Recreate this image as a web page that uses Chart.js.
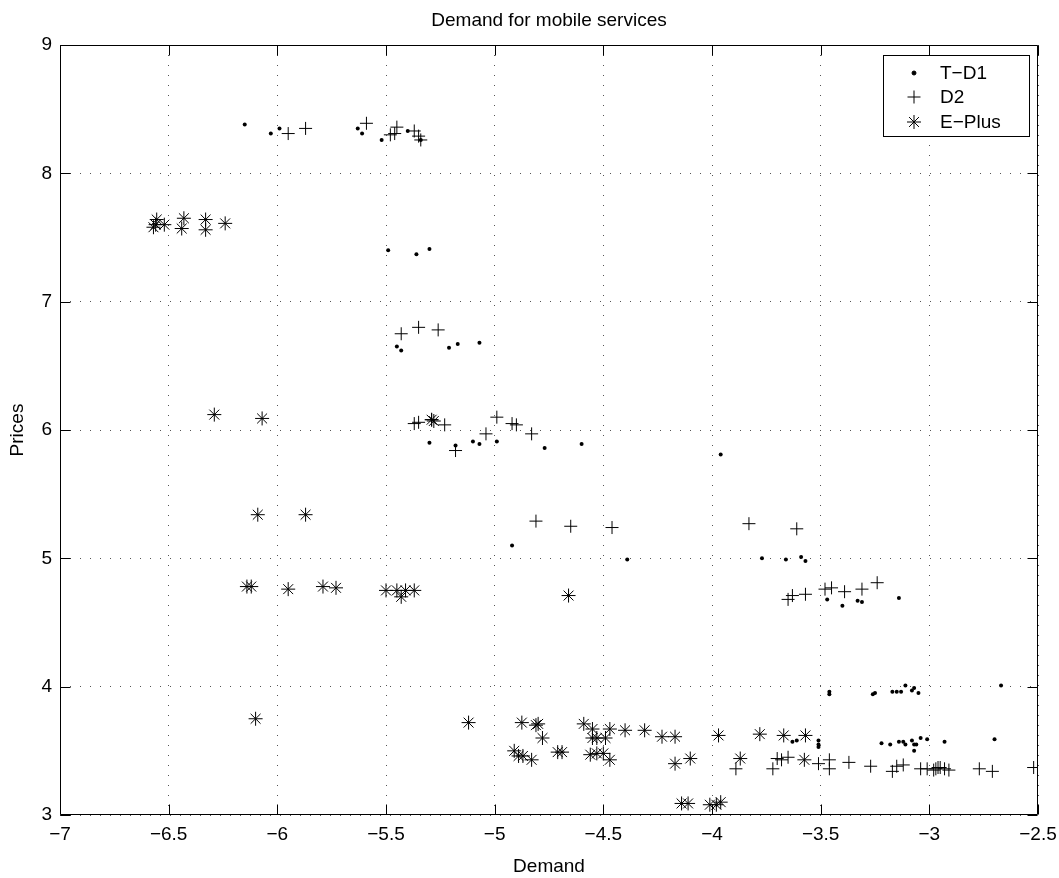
<!DOCTYPE html>
<html>
<head>
<meta charset="utf-8">
<script src="https://cdn.jsdelivr.net/npm/chart.js@4.4.1/dist/chart.umd.min.js"></script>
<style>
  html, body { margin: 0; padding: 0; background: #fff; }
  #wrap { width: 1059px; height: 878px; position: relative; }
</style>
</head>
<body>
<div id="wrap"><canvas id="c"></canvas></div>
<script>
// ---- Data ----
const seriesNames = ["T\u2212D1", "D2", "E\u2212Plus"];
const chartTitle = "Demand for mobile services";
const xTitle = "Demand";
const yTitle = "Prices";
const xTicks = [-7, -6.5, -6, -5.5, -5, -4.5, -4, -3.5, -3, -2.5];
const yTicks = [3, 4, 5, 6, 7, 8, 9];

const tdX = [-6.15,-6.03,-5.99,-5.63,-5.61,-5.52,-5.40,-5.34,
  -5.49,-5.36,-5.30,
  -5.45,-5.43,-5.21,-5.17,-5.07,
  -5.30,-5.18,-5.10,-5.07,-4.99,-4.77,-4.60,-3.96,
  -4.92,-4.39,-3.77,-3.66,-3.59,-3.57,
  -3.47,-3.40,-3.33,-3.31,-3.14,
  -3.46,-3.46,-3.26,-3.25,-3.17,-3.15,-3.13,-3.11,-3.08,-3.07,-3.05,-2.67,
  -3.51,-3.51,-3.51,-3.63,-3.61,-3.22,-3.18,-3.14,-3.12,-3.11,-3.08,-3.07,-3.07,-3.06,-3.04,-3.01,-2.93,-2.70];
const tdY = [8.38,8.31,8.35,8.35,8.31,8.26,8.33,8.26,
  7.40,7.37,7.41,
  6.65,6.62,6.64,6.67,6.68,
  5.90,5.88,5.91,5.89,5.91,5.86,5.89,5.81,
  5.10,4.99,5.00,4.99,5.01,4.98,
  4.68,4.63,4.67,4.66,4.69,
  3.96,3.94,3.94,3.95,3.96,3.96,3.96,4.01,3.97,3.99,3.95,4.01,
  3.58,3.55,3.53,3.57,3.58,3.56,3.55,3.57,3.57,3.55,3.58,3.55,3.50,3.55,3.60,3.59,3.57,3.59];

const d2X = [-5.95,-5.87,-5.59,-5.48,-5.46,-5.45,-5.37,-5.35,-5.34,
  -5.43,-5.35,-5.26,
  -5.37,-5.35,-5.29,-5.23,-5.18,-5.04,-4.99,-4.92,-4.90,-4.83,
  -4.81,-4.65,-4.46,-3.83,-3.61,
  -3.65,-3.63,-3.57,-3.48,-3.45,-3.39,-3.31,-3.24,
  -3.89,-3.72,-3.70,-3.68,-3.65,-3.51,-3.46,-3.46,-3.37,-3.27,-3.17,-3.15,-3.12,
  -3.04,-3.01,-2.98,-2.97,-2.96,-2.95,-2.93,-2.91,-2.77,-2.71,-2.52];
const d2Y = [8.31,8.35,8.39,8.30,8.31,8.36,8.33,8.29,8.26,
  6.75,6.80,6.78,
  6.05,6.06,6.08,6.04,5.84,5.97,6.10,6.05,6.04,5.97,
  5.29,5.25,5.24,5.27,5.23,
  4.68,4.71,4.72,4.76,4.77,4.74,4.76,4.81,
  3.36,3.36,3.44,3.43,3.45,3.40,3.43,3.36,3.41,3.38,3.34,3.38,3.39,
  3.36,3.36,3.35,3.36,3.37,3.37,3.36,3.35,3.36,3.34,3.37];

const epX = [-6.57,-6.555,-6.56,-6.52,-6.43,-6.44,-6.33,-6.33,-6.24,
  -6.29,-6.07,-5.29,-5.28,
  -6.09,-5.87,
  -6.14,-6.12,-5.95,-5.79,-5.73,-5.50,-5.45,-5.43,-5.41,-5.37,-4.66,
  -6.10,
  -5.12,-4.875,-4.81,-4.80,-4.78,-4.91,-4.89,-4.87,-4.83,-4.71,-4.69,
  -4.59,-4.55,-4.55,-4.53,-4.49,-4.47,-4.56,-4.53,-4.50,-4.47,
  -4.40,-4.31,-4.23,-4.17,-4.17,-4.10,
  -4.14,-4.11,-4.01,-3.98,-3.96,
  -3.97,-3.87,-3.78,-3.67,-3.57,-3.575];
const epY = [7.58,7.64,7.60,7.60,7.65,7.57,7.64,7.56,7.61,
  6.12,6.09,6.08,6.07,
  5.34,5.34,
  4.78,4.78,4.76,4.78,4.77,4.75,4.75,4.70,4.75,4.75,4.71,
  3.75,
  3.72,3.72,3.70,3.71,3.60,3.50,3.46,3.46,3.43,3.49,3.49,
  3.71,3.67,3.60,3.60,3.60,3.67,3.47,3.48,3.48,3.43,
  3.66,3.66,3.61,3.61,3.40,3.44,
  3.09,3.09,3.08,3.08,3.10,
  3.62,3.44,3.63,3.62,3.62,3.43];

const pts = (xs, ys) => xs.map((x, i) => ({ x: x, y: ys[i] }));
const FONT = "'Liberation Sans', Arial, Helvetica, sans-serif";
const minus = v => String(v).replace('-', '\u2212');

const framePlugin = {
  id: 'frame',
  afterDraw(chart) {
    const ctx = chart.ctx;
    const a = chart.chartArea;
    const xs = chart.scales.x, ys = chart.scales.y;
    const tl = 10;
    ctx.save();
    ctx.strokeStyle = '#000';
    ctx.lineWidth = 1;
    ctx.setLineDash([]);
    const L = Math.round(a.left) + 0.5, R = Math.round(a.right) - 0.5;
    const T = Math.round(a.top) + 0.5, B = Math.round(a.bottom) - 0.5;
    ctx.beginPath();
    ctx.rect(L, T, R - L, B - T);
    ctx.stroke();
    ctx.beginPath();
    xTicks.forEach(v => {
      const px = Math.round(xs.getPixelForValue(v)) + 0.5;
      ctx.moveTo(px, B); ctx.lineTo(px, B - tl);
      ctx.moveTo(px, T); ctx.lineTo(px, T + tl);
    });
    yTicks.forEach(v => {
      const py = Math.round(ys.getPixelForValue(v)) + 0.5;
      ctx.moveTo(L, py); ctx.lineTo(L + tl, py);
      ctx.moveTo(R, py); ctx.lineTo(R - tl, py);
    });
    ctx.stroke();

    // title
    ctx.fillStyle = '#000';
    ctx.font = '19px ' + FONT;
    ctx.textAlign = 'center';
    ctx.textBaseline = 'middle';
    ctx.fillText(chartTitle, (a.left + a.right) / 2, 21);

    // legend box
    const bx = 883.5, by = 55.5, bw = 146, bh = 81;
    ctx.fillStyle = '#fff';
    ctx.fillRect(bx, by, bw, bh);
    ctx.strokeRect(bx, by, bw, bh);
    const rows = [73, 97, 122];
    chart.data.datasets.forEach((ds, i) => {
      ctx.save();
      ctx.strokeStyle = '#000';
      ctx.fillStyle = '#000';
      ctx.lineWidth = 1;
      Chart.helpers.drawPoint(ctx, {
        pointStyle: ds.pointStyle,
        radius: ds.pointRadius,
        rotation: 0,
        borderWidth: 1
      }, 914, rows[i]);
      ctx.restore();
      ctx.fillStyle = '#000';
      ctx.font = '19px ' + FONT;
      ctx.textAlign = 'left';
      ctx.textBaseline = 'middle';
      ctx.fillText(ds.label, 940, rows[i] + 1);
    });
    ctx.restore();
  }
};

new Chart(document.getElementById('c'), {
  type: 'scatter',
  data: {
    datasets: [
      { label: seriesNames[0], data: pts(tdX, tdY), pointStyle: 'circle', pointRadius: 2,
        backgroundColor: '#000', borderColor: '#000', borderWidth: 0 },
      { label: seriesNames[1], data: pts(d2X, d2Y), pointStyle: 'cross', pointRadius: 6.5,
        backgroundColor: '#000', borderColor: '#000', borderWidth: 1 },
      { label: seriesNames[2], data: pts(epX, epY), pointStyle: 'star', pointRadius: 7,
        backgroundColor: '#000', borderColor: '#000', borderWidth: 1 }
    ]
  },
  options: {
    responsive: true,
    maintainAspectRatio: false,
    animation: false,
    events: [],
    layout: { padding: { left: 0, right: 21, top: 45, bottom: 0 } },
    plugins: {
      legend: { display: false },
      title: { display: false },
      tooltip: { enabled: false }
    },
    scales: {
      x: {
        type: 'linear', min: -7, max: -2.5,
        afterBuildTicks: s => { s.ticks = xTicks.map(v => ({ value: v })); },
        afterFit: s => { s.height = 63; s.paddingLeft = 0; s.paddingRight = 0; },
        ticks: { color: '#000', font: { family: FONT, size: 19 }, padding: 8,
                 maxRotation: 0, autoSkip: false, callback: v => minus(v) },
        grid: { color: '#555', lineWidth: 1, drawTicks: false },
        border: { display: false, dash: [1, 9] },
        title: { display: true, text: xTitle, color: '#000', font: { family: FONT, size: 19 },
                 padding: { top: 0, bottom: 0 } }
      },
      y: {
        type: 'linear', min: 3, max: 9,
        afterBuildTicks: s => { s.ticks = yTicks.map(v => ({ value: v })); },
        afterFit: s => { s.width = 60; s.paddingTop = 0; s.paddingBottom = 0; },
        ticks: { color: '#000', font: { family: FONT, size: 19 }, padding: 8,
                 autoSkip: false, callback: v => minus(v) },
        grid: { color: '#555', lineWidth: 1, drawTicks: false },
        border: { display: false, dash: [1, 9] },
        title: { display: true, text: yTitle, color: '#000', font: { family: FONT, size: 19 },
                 padding: { top: 6, bottom: 0 } }
      }
    }
  },
  plugins: [framePlugin]
});
</script>
</body>
</html>
